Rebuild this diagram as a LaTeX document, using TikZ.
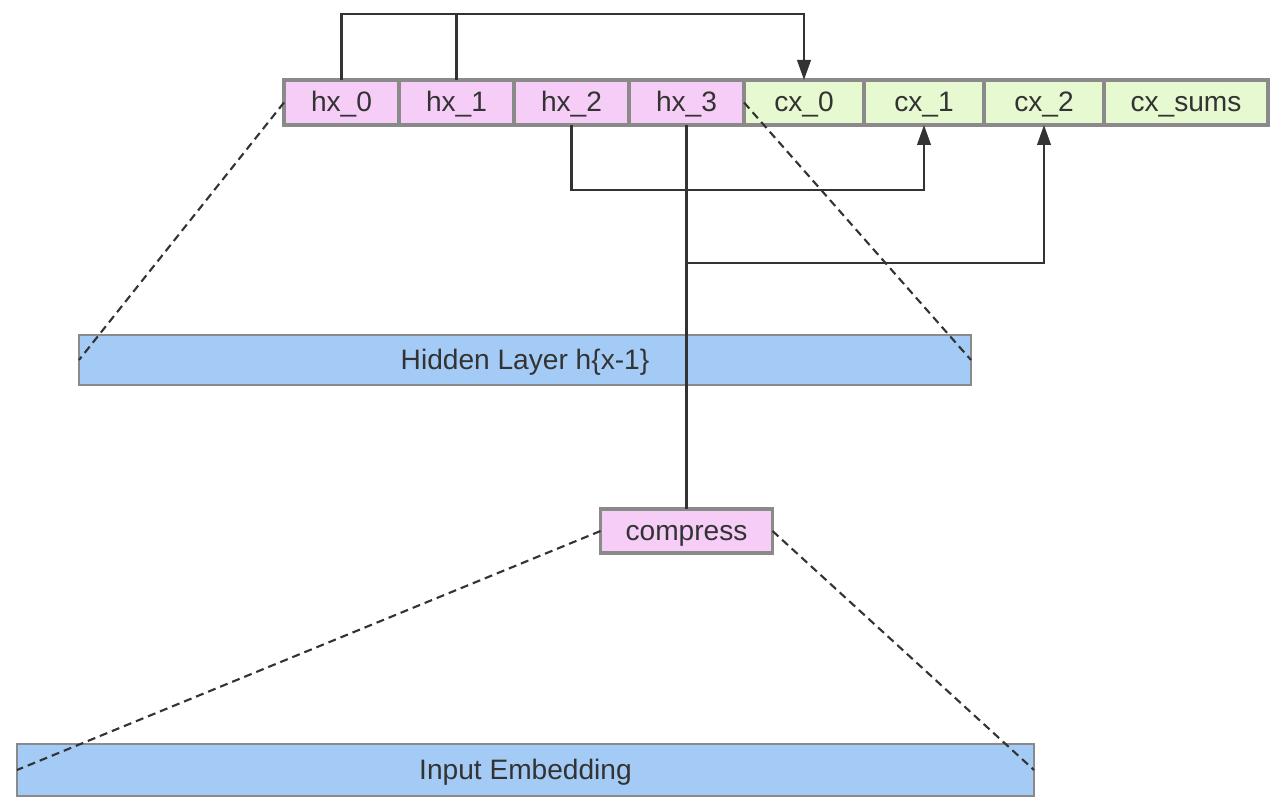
\documentclass[tikz,border=0pt]{standalone}
\usepackage{fontspec}
\setmainfont{Liberation Sans}
\usetikzlibrary{positioning,arrows.meta}
\definecolor{cellpink}{HTML}{F5CDF7}
\definecolor{cellgreen}{HTML}{E7F9D0}
\definecolor{layerblue}{HTML}{A4CBF6}
\definecolor{framegray}{HTML}{8A8A8A}
\definecolor{wire}{HTML}{333333}
\tikzset{
  cell/.style={draw=framegray, line width=2.2pt, minimum height=0.9cm, inner sep=0pt, outer sep=0pt,
               font=\fontsize{16}{18}\selectfont, text=wire, text height=11.5pt, text depth=0.7pt},
  hcell/.style={cell, fill=cellpink, minimum width=2.3cm},
  ccell/.style={cell, fill=cellgreen, minimum width=2.4cm},
  layer/.style={draw=framegray, line width=1.3pt, fill=layerblue, minimum height=1cm, inner sep=0pt,
                outer sep=0pt, font=\fontsize{16}{18}\selectfont, text=wire, text height=11.5pt, text depth=0.7pt},
  wireline/.style={draw=wire, line width=1.4pt},
  arr/.style={wireline, -{Triangle[length=0.4cm,width=0.27cm]}},
  zoomline/.style={draw=wire, line width=1.2pt, dash pattern=on 0.16cm off 0.1cm}
}
\begin{document}
\begin{tikzpicture}
\useasboundingbox (0,0) rectangle (25.6,-16.2);

% state row
\node[hcell] (hx0) at (6.83,-2.05) {hx\_0};
\foreach \i [remember=\i as \j (initially 0)] in {1,2,3}
  \node[hcell, right=0pt of hx\j] (hx\i) {hx\_\i};
\node[ccell, right=0pt of hx3] (cx0) {cx\_0};
\node[ccell, right=0pt of cx0] (cx1) {cx\_1};
\node[ccell, right=0pt of cx1] (cx2) {cx\_2};
\node[ccell, minimum width=3.28cm, right=0pt of cx2] (cxsums) {cx\_sums};

% layers
\node[layer, minimum width=17.84cm] (hidden) at (10.5,-7.2) {Hidden Layer h\{x-1\}};
\node[hcell, minimum width=3.44cm, minimum height=0.88cm, below=7.68cm of hx3] (compress) {compress};
\node[layer, minimum width=20.34cm, minimum height=1.04cm] (embed) at (10.51,-15.4) {Input Embedding};

\coordinate (top) at (0,-0.28);
\coordinate (bendA) at (0,-3.8);
\coordinate (bendB) at (0,-5.26);

% wiring
\draw[arr] (hx0.north) -- (hx0.north |- top) -| (cx0.north);
\draw[wireline] (hx1.north) -- (hx1.north |- top);
\draw[arr] (hx2.south) -- (hx2.south |- bendA) -| (cx1.south);
\draw[wireline] (hx3.south) -- (compress.north);
\draw[arr] (hx3.south |- bendB) -| (cx2.south);

% zoom lines
\draw[zoomline] (hx0.west) -- (hidden.west) (hx3.east) -- (hidden.east);
\draw[zoomline] (compress.west) -- (embed.west) (compress.east) -- (embed.east);
\end{tikzpicture}
\end{document}
